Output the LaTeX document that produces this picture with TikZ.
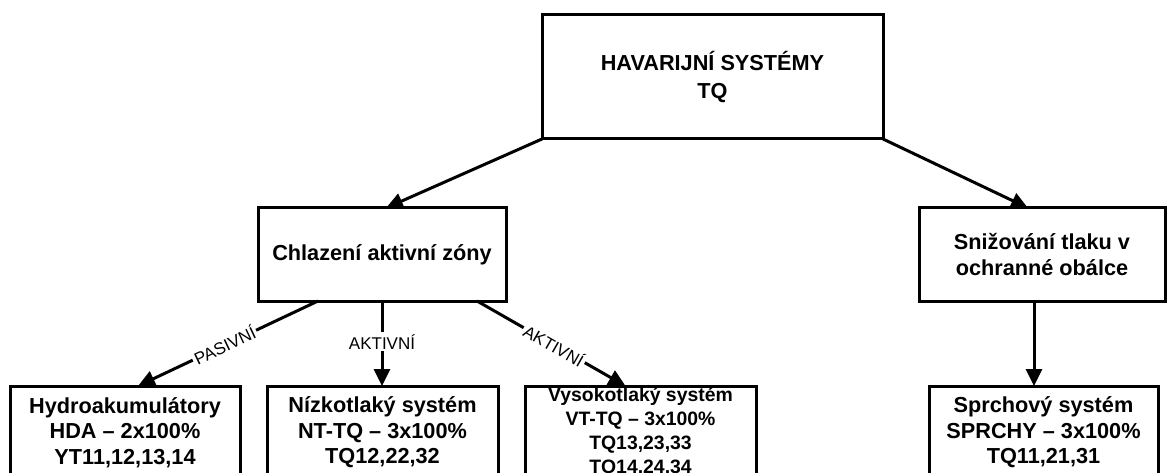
\documentclass[tikz,border=0pt]{standalone}
\usepackage{fontspec}
\setmainfont{Liberation Sans}
\usetikzlibrary{arrows.meta,calc}
\begin{document}
\begin{tikzpicture}[x=1pt,y=-1pt,
  box/.style={draw, line width=3pt, outer sep=0pt, inner sep=0pt, align=center,
    font=\bfseries\fontsize{21.7}{25.5}\selectfont},
  conn/.style={line width=3pt, -{Triangle[length=17pt,width=16pt]}},
  plain/.style={line width=3pt},
  lbl/.style={fill=white, inner sep=2pt, font=\fontsize{17}{17}\selectfont}]
\useasboundingbox (0,0) rectangle (1167,473);
\clip (0,0) rectangle (1167,473);
\node[box, minimum width=341pt, minimum height=124pt,
  font=\bfseries\fontsize{21.7}{28}\selectfont] (top) at (712.5,77) {HAVARIJNÍ SYSTÉMY\\TQ};
\node[box, minimum width=248pt, minimum height=93pt] (chl) at (382,254.5) {Chlazení aktivní zóny};
\node[box, minimum width=246pt, minimum height=93pt] (sniz) at (1042,254.5) {Snižování tlaku v\\ochranné obálce};
\node[box, minimum width=230pt, minimum height=93pt] (hda) at (125,432.5) {Hydroakumulátory\\HDA – 2x100\%\\YT11,12,13,14};
\node[box, minimum width=231pt, minimum height=93pt] (nt) at (382.5,432.5) {Nízkotlaký systém\\NT-TQ – 3x100\%\\TQ12,22,32};
\node[box, minimum width=231pt, minimum height=93pt,
  font=\bfseries\fontsize{19.4}{24}\selectfont] (vt) at (640.5,432.5) {Vysokotlaký systém\\VT-TQ – 3x100\%\\TQ13,23,33\\TQ14,24,34};
\node[box, minimum width=229pt, minimum height=93pt] (spr) at (1043.5,432.5) {Sprchový systém\\SPRCHY – 3x100\%\\TQ11,21,31};

\draw[conn] (top.south west) -- ([xshift=4pt]chl.north);
\draw[conn] (top.south east) -- ([xshift=-14pt]sniz.north);
\draw[conn] ([xshift=-64pt]chl.south) -- node[lbl, sloped, pos=0.52] {PASIVNÍ} ([xshift=13pt]hda.north);
\draw[conn] (chl.south) -- node[lbl, pos=0.48] {AKTIVNÍ} (chl.south |- nt.north);
\draw[conn] ([xshift=95pt]chl.south) -- node[lbl, sloped, pos=0.52] {AKTIVNÍ} ([xshift=-15pt]vt.north);
\draw[conn] ([xshift=-8pt]sniz.south) -- ([xshift=-8pt]sniz.south |- spr.north);
\end{tikzpicture}
\end{document}
